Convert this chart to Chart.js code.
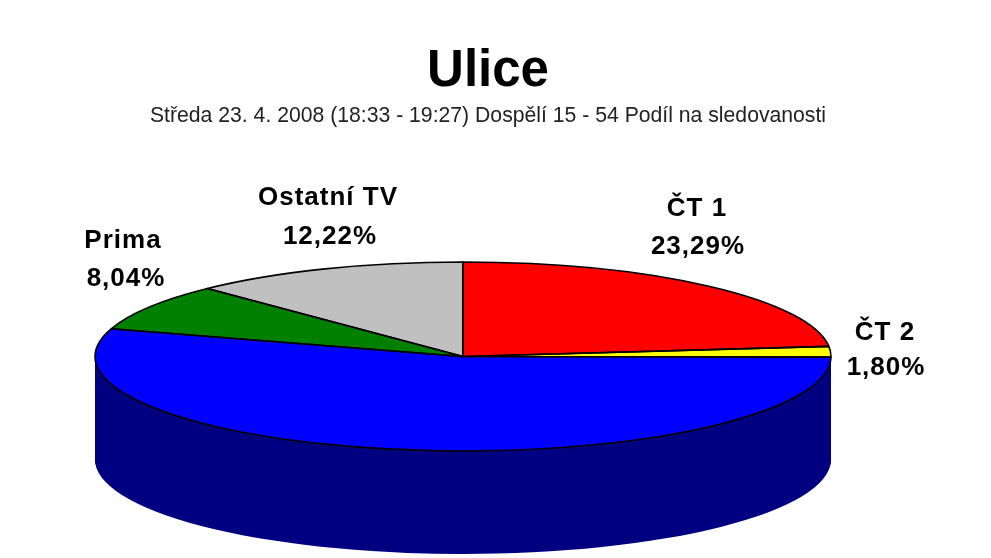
<!DOCTYPE html>
<html lang="cs">
<head>
<meta charset="utf-8">
<title>Ulice</title>
<script src="https://cdn.jsdelivr.net/npm/chart.js@4"></script>
<style>
html,body{margin:0;padding:0;background:#fff}
#wrap{width:991px;height:558px;overflow:hidden}
canvas{display:block}
</style>
</head>
<body>
<div id="wrap"><canvas id="c" width="991" height="558"></canvas></div>
<script>
const titleText = 'Ulice';
const subtitleText = 'Středa 23. 4. 2008 (18:33 - 19:27) Dospělí 15 - 54 Podíl na sledovanosti';
const categories = ['ČT 1', 'ČT 2', 'Nova', 'Prima', 'Ostatní TV'];
const shares = [23.29, 1.80, 54.65, 8.04, 12.22];
const showLabel = [true, true, false, true, true];
const topColors = ['#ff0000', '#ffff00', '#0000ff', '#008000', '#c0c0c0'];
const wallColors = ['#800000', '#808000', '#000080', '#004000', '#606060'];

/* layout of the drawn pie, in page pixels */
const pieBox = { cx: 463, cy: 356.5, rx: 368, ry: 94.5, depth: 103 };
const labelBoxes = [
  { name: [697, 209], value: [698, 247] },
  { name: [885, 333], value: [886, 368] },
  null,
  { name: [123, 241], value: [126, 279] },
  { name: [328, 198], value: [330, 237] }
];
const labelFont = 'bold 26px "Liberation Sans", Arial, sans-serif';

function applyEllipse(ctx, arc, dy) {
  const r = arc.outerRadius;
  ctx.translate(pieBox.cx, pieBox.cy + dy);
  ctx.scale(pieBox.rx / r, pieBox.ry / r);
  ctx.translate(-arc.x, -arc.y);
}

const pie3d = {
  id: 'pie3d',
  beforeDatasetsDraw(chart) {
    const ctx = chart.ctx;
    const arcs = chart.getDatasetMeta(0).data;
    // side wall: the same arcs, repeated downward in the darker colours
    for (let dy = pieBox.depth; dy >= 1; dy--) {
      arcs.forEach((arc, i) => {
        ctx.save();
        applyEllipse(ctx, arc, dy);
        const saved = arc.options;
        arc.options = Object.create(saved, {
          backgroundColor: { value: wallColors[i] },
          borderWidth: { value: 0 }
        });
        arc.draw(ctx);
        arc.options = saved;
        ctx.restore();
      });
    }
    ctx.save();
    applyEllipse(ctx, arcs[0], 0);
  },
  afterDatasetsDraw(chart) {
    const ctx = chart.ctx;
    ctx.restore();
    const arcs = chart.getDatasetMeta(0).data;
    // crisp outlines, built in ellipse space but stroked in page space
    arcs.forEach(arc => {
      ctx.save();
      ctx.save();
      applyEllipse(ctx, arc, 0);
      ctx.beginPath();
      ctx.moveTo(arc.x, arc.y);
      ctx.arc(arc.x, arc.y, arc.outerRadius, arc.startAngle, arc.endAngle);
      ctx.closePath();
      ctx.restore();
      ctx.lineWidth = 1.6;
      ctx.strokeStyle = '#000000';
      ctx.lineJoin = 'round';
      ctx.stroke();
      ctx.restore();
    });
  },
  afterDraw(chart) {
    const ctx = chart.ctx;
    ctx.save();
    ctx.font = labelFont;
    ctx.fillStyle = '#000000';
    ctx.textAlign = 'center';
    ctx.textBaseline = 'middle';
    ctx.letterSpacing = '1px';
    categories.forEach((name, i) => {
      if (!showLabel[i]) return;
      const box = labelBoxes[i];
      ctx.fillText(name, box.name[0], box.name[1]);
      ctx.fillText(shares[i].toFixed(2).replace('.', ',') + '%', box.value[0], box.value[1]);
    });
    ctx.restore();
  }
};

new Chart(document.getElementById('c'), {
  type: 'pie',
  data: {
    labels: categories,
    datasets: [{
      data: shares,
      backgroundColor: topColors,
      borderWidth: 0,
      clip: false
    }]
  },
  options: {
    responsive: false,
    animation: false,
    devicePixelRatio: 1,
    rotation: 0,
    layout: { padding: { top: 0, right: 15, bottom: 0, left: 0 } },
    plugins: {
      legend: { display: false },
      tooltip: { enabled: false },
      title: {
        display: true,
        text: titleText,
        color: '#000000',
        font: { family: '"Liberation Sans", Arial, sans-serif', size: 51, weight: 'bold', lineHeight: 1.1 },
        padding: { top: 44, bottom: 3 }
      },
      subtitle: {
        display: true,
        text: subtitleText,
        color: '#222222',
        font: { family: '"Liberation Sans", Arial, sans-serif', size: 21.2, weight: 'normal', lineHeight: 1.2 },
        padding: { top: 0, bottom: 10 }
      }
    }
  },
  plugins: [pie3d]
});
</script>
</body>
</html>
